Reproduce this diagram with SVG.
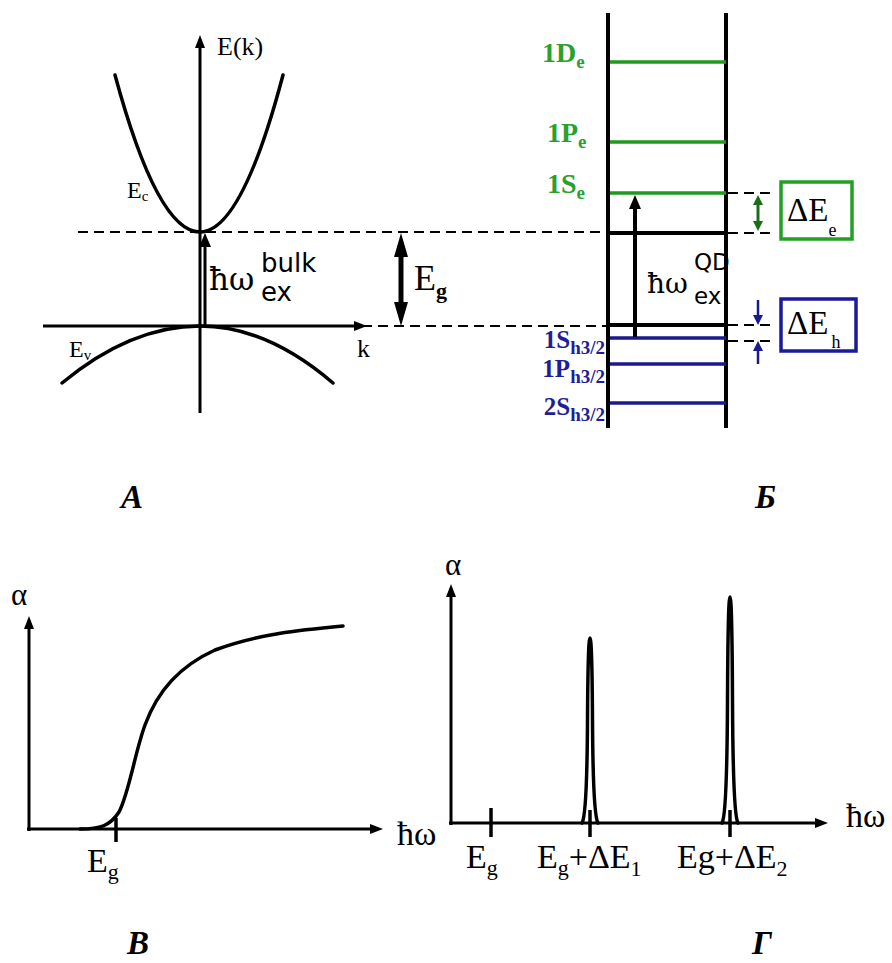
<svg xmlns="http://www.w3.org/2000/svg" width="892" height="963" viewBox="0 0 892 963">
<style>
  .ser { font-family: "Liberation Serif", "Times New Roman", serif; fill: #000; }
  .dser { font-family: "DejaVu Serif", serif; fill: #000; }
  .dsan { font-family: "DejaVu Sans", sans-serif; fill: #000; }
  .ax { stroke: #000; stroke-width: 3; fill: none; }
  .cur { stroke: #000; stroke-width: 3.5; fill: none; stroke-linecap: round; }
  .dash { stroke: #000; stroke-width: 2; stroke-dasharray: 10 6; fill: none; }
  .wall { stroke: #000; stroke-width: 4; fill: none; }
  .lvg { stroke: #1f9a1f; stroke-width: 3.5; }
  .lvb { stroke: #1a1a8c; stroke-width: 3.5; }
  .lblg { font-family: "Liberation Serif", "Times New Roman", serif; font-weight: bold; fill: #2ca02c; }
  .lblb { font-family: "Liberation Serif", "Times New Roman", serif; font-weight: bold; fill: #1e1e96; }
  .let { font-family: "Liberation Serif", "Times New Roman", serif; font-weight: bold; font-style: italic; font-size: 33px; fill: #000; }
</style>
<defs>
  <marker id="ahS" viewBox="0 0 13 10" refX="0" refY="5" markerWidth="13" markerHeight="10" markerUnits="userSpaceOnUse" orient="auto"><path d="M0,0 L13,5 L0,10 z" fill="#000"/></marker>
  <marker id="ahM" viewBox="0 0 14 12" refX="0" refY="5" markerWidth="14" markerHeight="12" markerUnits="userSpaceOnUse" orient="auto" overflow="visible"><path d="M0,-1 L14,5 L0,11 z" fill="#000"/></marker>
  <marker id="ahL" viewBox="0 0 24 14" refX="0" refY="7" markerWidth="24" markerHeight="14" markerUnits="userSpaceOnUse" orient="auto-start-reverse"><path d="M0,0 L24,7 L0,14 z" fill="#000"/></marker>
  <marker id="ahG" viewBox="0 0 10 10" refX="0" refY="5" markerWidth="10" markerHeight="10" markerUnits="userSpaceOnUse" orient="auto-start-reverse"><path d="M0,0 L10,5 L0,10 z" fill="#1a6e1a"/></marker>
  <marker id="ahB" viewBox="0 0 10 10" refX="0" refY="5" markerWidth="10" markerHeight="10" markerUnits="userSpaceOnUse" orient="auto"><path d="M0,0 L10,5 L0,10 z" fill="#1a1a8c"/></marker>
</defs>

<!-- Panel A: bulk band structure -->
<g id="panelA">
  <g id="axesA">
    <line class="ax" x1="200" y1="413" x2="200" y2="48" marker-end="url(#ahS)"/>
    <line class="ax" x1="43" y1="326" x2="354" y2="326" marker-end="url(#ahS)"/>
  </g>
  <path id="Ec-curve" class="cur" d="M115,75 Q157.5,232 200,232 Q241.5,232 283,75"/>
  <path id="Ev-curve" class="cur" d="M62,383 Q131,326 200,326 Q266.5,326 333,383"/>
  <text class="ser" x="217" y="55" font-size="26">E(k)</text>
  <text class="ser" x="127" y="198" font-size="24">E<tspan font-size="15" dy="3">c</tspan></text>
  <text class="ser" x="69" y="357" font-size="24">E<tspan font-size="15" dy="3">v</tspan></text>
  <text class="ser" x="357" y="357" font-size="26">k</text>
  <g id="bulk-label">
    <text class="dser" x="209" y="290" font-size="31">ħω</text>
    <text class="dsan" x="261" y="272" font-size="26">bulk</text>
    <text class="dsan" x="261" y="301" font-size="26">ex</text>
  </g>
  <g id="Eg-label">
    <text class="ser" x="414" y="290" font-size="36">E<tspan font-size="22" font-weight="bold" dy="8">g</tspan></text>
  </g>
</g>

<!-- Panel B: quantum dot levels -->
<g id="panelB">
  <g id="well">
    <line class="wall" x1="608" y1="13" x2="608" y2="428"/>
    <line class="wall" x1="726" y1="13" x2="726" y2="428"/>
    <line class="wall" x1="608" y1="233" x2="726" y2="233"/>
    <line class="wall" x1="608" y1="325" x2="726" y2="325"/>
  </g>
  <g id="e-levels">
    <line class="lvg" x1="610" y1="62" x2="726" y2="62"/>
    <line class="lvg" x1="610" y1="142" x2="726" y2="142"/>
    <line class="lvg" x1="610" y1="193" x2="726" y2="193"/>
  </g>
  <g id="h-levels">
    <line class="lvb" x1="610" y1="338" x2="726" y2="338"/>
    <line class="lvb" x1="610" y1="364" x2="726" y2="364"/>
    <line class="lvb" x1="610" y1="403" x2="726" y2="403"/>
  </g>
  <g id="e-labels">
    <text class="lblg" x="542" y="62" font-size="28">1D<tspan font-size="19" dy="6">e</tspan></text>
    <text class="lblg" x="547" y="142" font-size="28">1P<tspan font-size="19" dy="6">e</tspan></text>
    <text class="lblg" x="547" y="193" font-size="28">1S<tspan font-size="19" dy="6">e</tspan></text>
  </g>
  <g id="h-labels">
    <text class="lblb" x="605" y="348" font-size="25" text-anchor="end">1S<tspan font-size="19" dy="6">h3/2</tspan></text>
    <text class="lblb" x="605" y="377" font-size="25" text-anchor="end">1P<tspan font-size="19" dy="6">h3/2</tspan></text>
    <text class="lblb" x="605" y="415" font-size="25" text-anchor="end">2S<tspan font-size="19" dy="6">h3/2</tspan></text>
  </g>
  <g id="QD-label">
    <text class="dser" x="647" y="293" font-size="28">ħω</text>
    <text class="dsan" x="694" y="270" font-size="23">QD</text>
    <text class="dsan" x="694" y="304" font-size="23">ex</text>
  </g>
  <g id="dEe-box">
    <rect x="781" y="182" width="71" height="57" fill="#fff" stroke="#22a022" stroke-width="3.5"/>
    <text class="ser" x="787" y="221" font-size="33">ΔE<tspan font-size="18" dy="15">e</tspan></text>
  </g>
  <g id="dEh-box">
    <rect x="781" y="299" width="75" height="52" fill="#fff" stroke="#1a1a9a" stroke-width="3.5"/>
    <text class="ser" x="787" y="334" font-size="33">ΔE<tspan font-size="18" dy="14" dx="3">h</tspan></text>
  </g>
</g>

<!-- Connectors: arrows and dashed guide lines -->
<g id="connectors">
  <line class="dash" x1="78" y1="232" x2="608" y2="232"/>
  <line class="dash" x1="362" y1="326" x2="608" y2="326"/>
  <line class="dash" x1="728" y1="193" x2="772" y2="193"/>
  <line class="dash" x1="728" y1="233" x2="772" y2="233"/>
  <line class="dash" x1="728" y1="325" x2="772" y2="325"/>
  <line class="dash" x1="728" y1="341" x2="772" y2="341"/>
  <line x1="205" y1="326" x2="205" y2="247" stroke="#000" stroke-width="3" marker-end="url(#ahM)"/>
  <line x1="401" y1="257" x2="401" y2="302" stroke="#000" stroke-width="5" marker-start="url(#ahL)" marker-end="url(#ahL)"/>
  <line x1="635" y1="337" x2="635" y2="209" stroke="#000" stroke-width="4" marker-end="url(#ahM)"/>
  <line x1="758" y1="205" x2="758" y2="221" stroke="#1a6e1a" stroke-width="3" marker-start="url(#ahG)" marker-end="url(#ahG)"/>
  <line x1="758" y1="300" x2="758" y2="315" stroke="#1a1a8c" stroke-width="2.5" marker-end="url(#ahB)"/>
  <line x1="758" y1="364" x2="758" y2="351" stroke="#1a1a8c" stroke-width="2.5" marker-end="url(#ahB)"/>
</g>

<!-- Panel V: bulk absorption -->
<g id="panelV">
  <line class="ax" x1="29" y1="831" x2="29" y2="629" stroke-width="4" marker-end="url(#ahS)"/>
  <line class="ax" x1="27" y1="829" x2="370" y2="829" stroke-width="4" marker-end="url(#ahS)"/>
  <line x1="116" y1="818" x2="116" y2="842" stroke="#000" stroke-width="3.5"/>
  <path class="cur" stroke-width="4" d="M80,829 C100,829 110,826 119,812 C129,793 135,752 145,725 C158,690 180,666 215,650 C258,634 300,630 343,626"/>
  <text class="ser" x="11" y="605" font-size="31">α</text>
  <text class="ser" x="397" y="845" font-size="34">ħω</text>
  <text class="ser" x="87" y="872" font-size="34">E<tspan font-size="22" dy="7">g</tspan></text>
</g>

<!-- Panel G: quantum dot absorption -->
<g id="panelG">
  <line class="ax" x1="451" y1="825" x2="451" y2="597" stroke-width="4" marker-end="url(#ahS)"/>
  <line class="ax" x1="449" y1="823" x2="815" y2="823" stroke-width="4" marker-end="url(#ahS)"/>
  <line x1="491" y1="808" x2="491" y2="837" stroke="#000" stroke-width="3.5"/>
  <line x1="590" y1="810" x2="590" y2="837" stroke="#000" stroke-width="3.5"/>
  <line x1="730" y1="810" x2="730" y2="837" stroke="#000" stroke-width="3.5"/>
  <path class="cur" d="M582,823 Q587,815 587.5,720 Q588,638 590,638 Q592,638 592.5,720 Q593,815 598,823"/>
  <path class="cur" d="M722,823 Q727,815 727.5,700 Q728,597 730,597 Q732,597 732.5,700 Q733,815 738,823"/>
  <text class="ser" x="445" y="575" font-size="31">α</text>
  <text class="ser" x="846" y="827" font-size="34">ħω</text>
  <text class="ser" x="466" y="868" font-size="34">E<tspan font-size="22" dy="7">g</tspan></text>
  <text class="ser" x="537" y="868" font-size="34">E<tspan font-size="22" dy="7">g</tspan><tspan dy="-7">+ΔE</tspan><tspan font-size="22" dy="8">1</tspan></text>
  <text class="ser" x="677" y="868" font-size="34">Eg+ΔE<tspan font-size="22" dy="8">2</tspan></text>
</g>

<g id="panel-letters">
  <text class="let" x="121" y="508">А</text>
  <text class="let" x="755" y="508">Б</text>
  <text class="let" x="127" y="954">В</text>
  <text class="let" x="752" y="954">Г</text>
</g>
</svg>
